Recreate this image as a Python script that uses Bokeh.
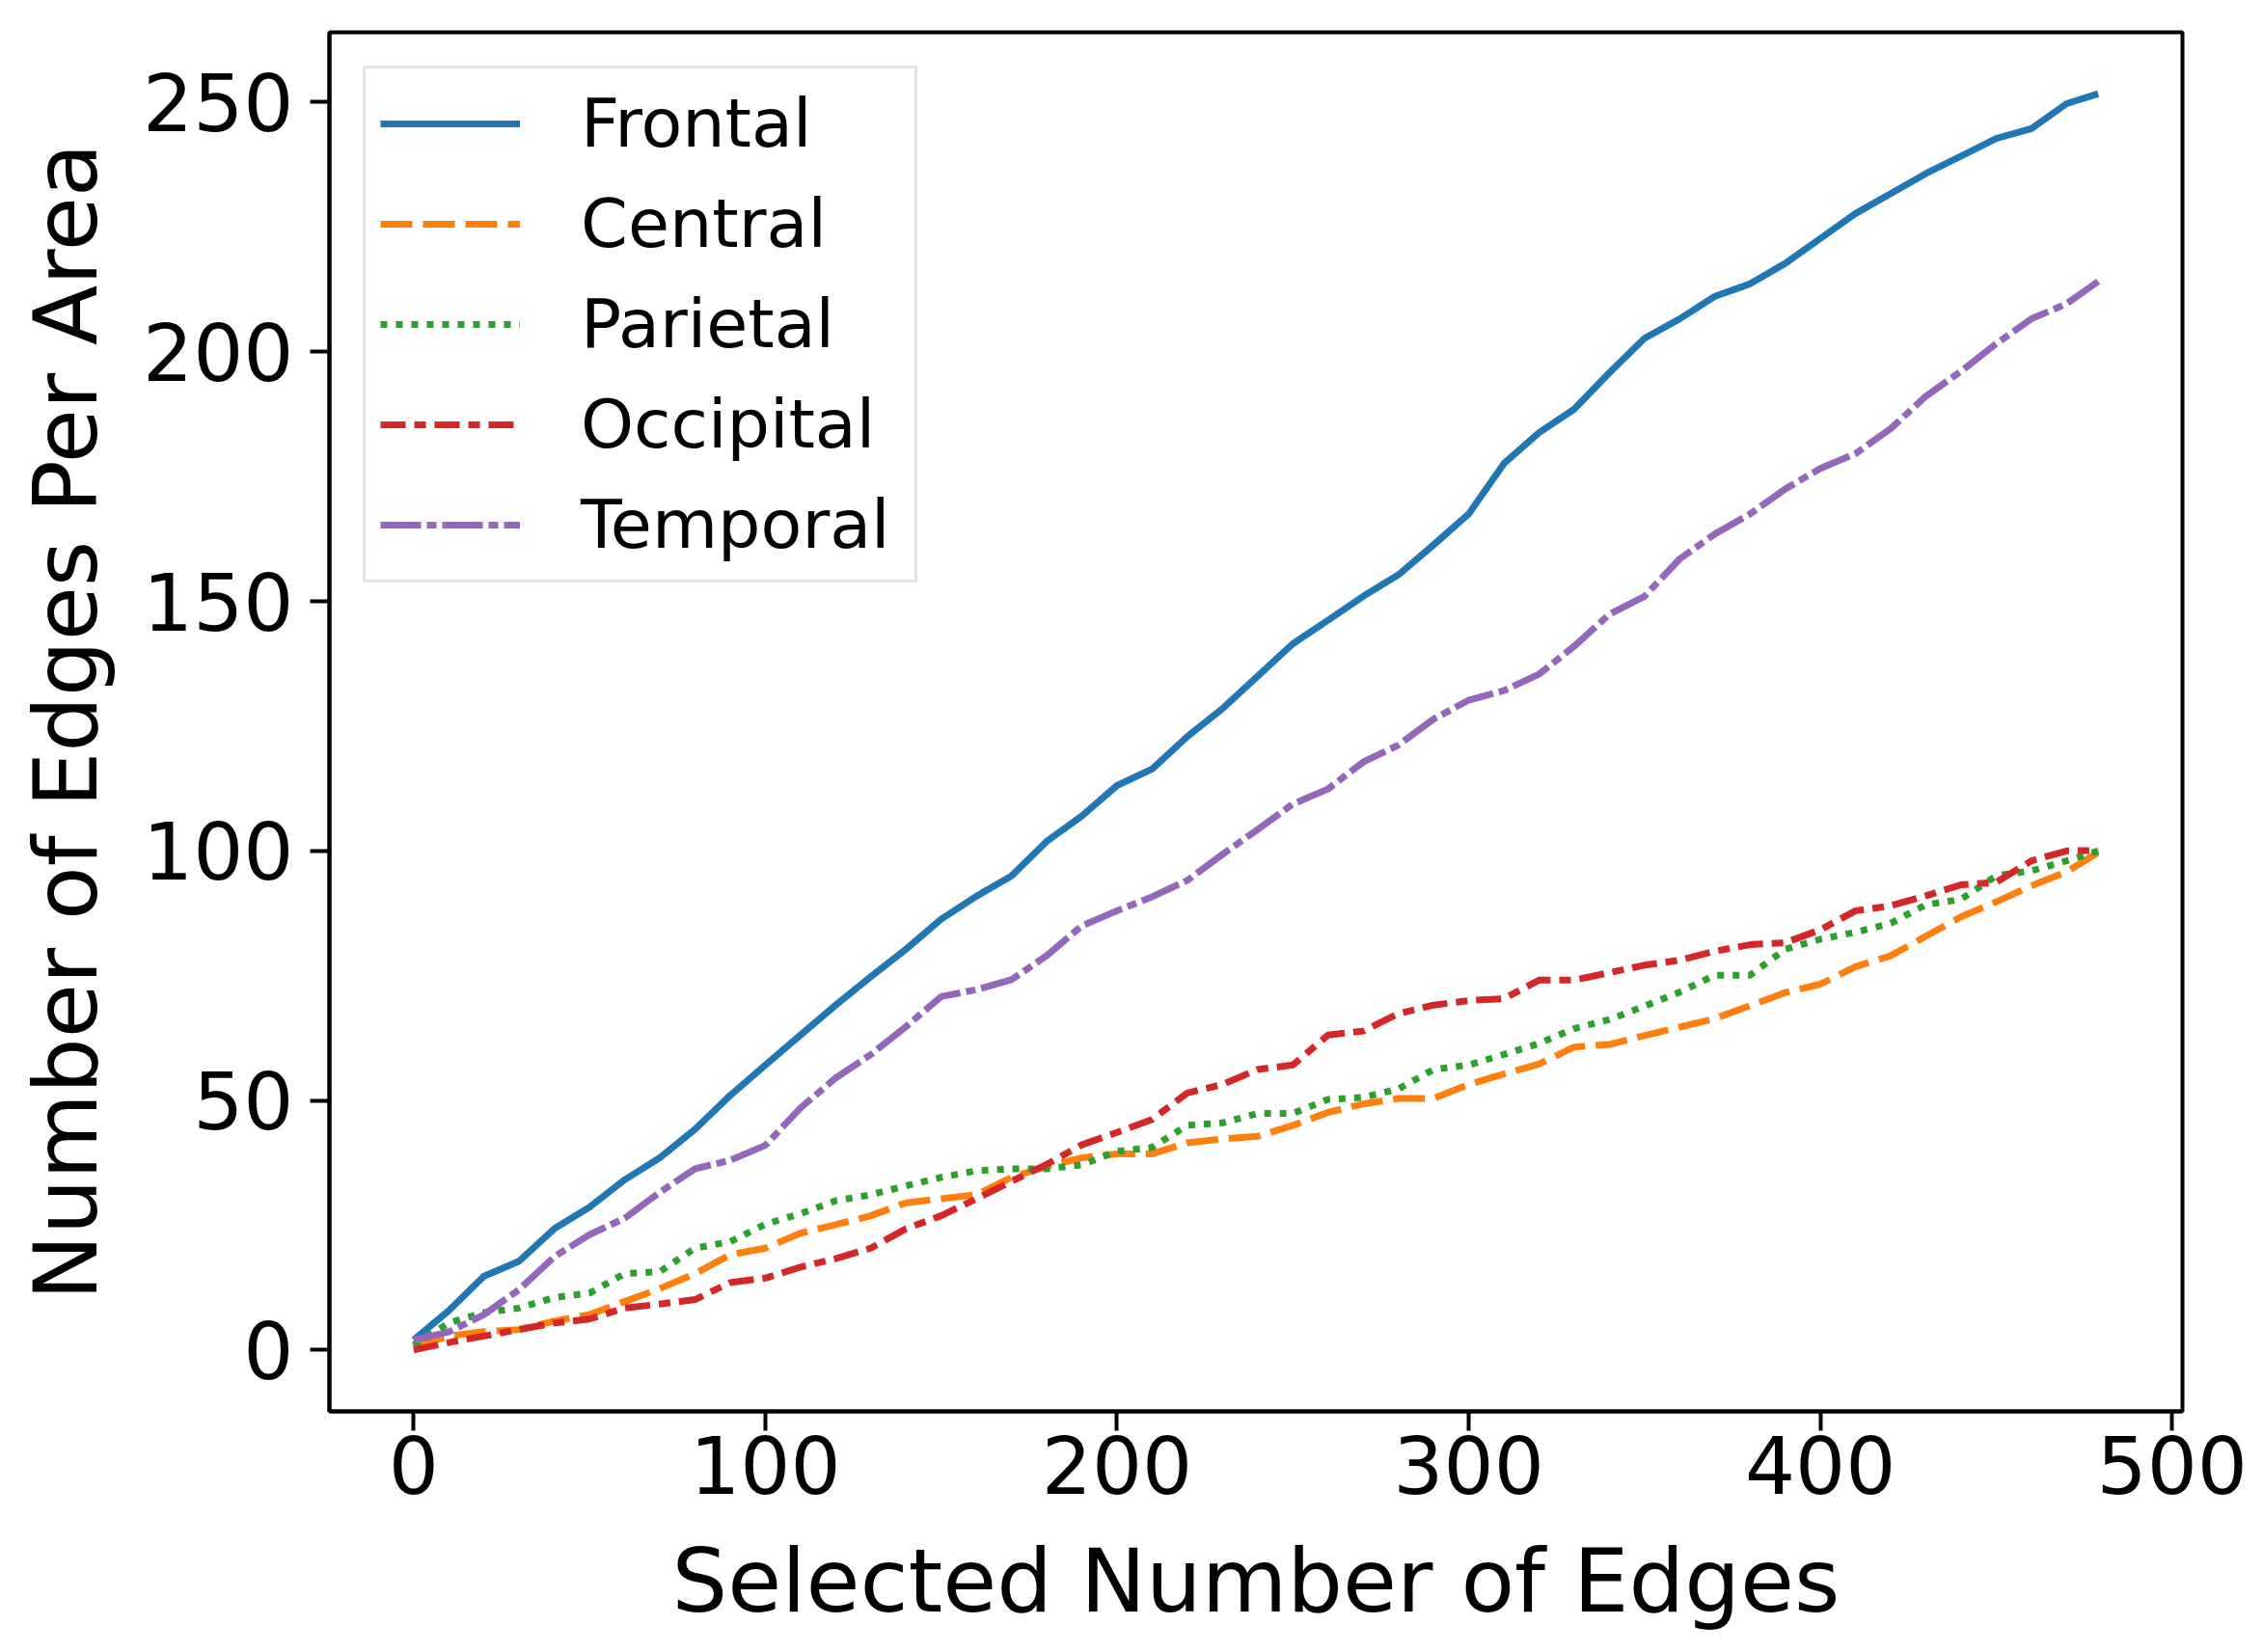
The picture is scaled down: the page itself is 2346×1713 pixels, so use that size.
from bokeh.plotting import figure
from bokeh.models import Range1d, FixedTicker
from bokeh.embed import file_html
from bokeh.resources import INLINE

# Selected number of edges (sample positions)
edges = [0, 10, 20, 30, 40, 50, 60, 70, 80, 90, 100, 110, 120, 130, 140, 150,
         160, 170, 180, 190, 200, 210, 220, 230, 240, 250, 260, 270, 280, 290,
         300, 310, 320, 330, 340, 350, 360, 370, 380, 390, 400, 410, 420, 430,
         440, 450, 460, 470, 479]

frontal = [2, 7.9, 14.8, 17.8, 24.3, 28.6, 34.1, 38.5, 44.2, 51.0, 57.1, 63.1,
           69.1, 74.8, 80.3, 86.3, 90.9, 95.0, 101.9, 107.0, 113.1, 116.4,
           122.9, 128.5, 135.0, 141.5, 146.2, 151.0, 155.3, 161.3, 167.5, 177.6,
           183.8, 188.5, 195.8, 202.7, 206.6, 211.1, 213.6, 217.7, 222.7, 227.7,
           231.7, 235.7, 239.2, 242.7, 244.7, 249.7, 251.7]

central = [0.5, 2.8, 3.7, 4.1, 5.8, 7.1, 9.7, 12.3, 15.3, 19.1, 20.4, 23.4,
           25.1, 26.9, 29.5, 30.3, 31.1, 34.6, 36.8, 38.5, 39.3, 39.3, 41.5,
           42.3, 42.8, 45.0, 47.6, 49.3, 50.4, 50.4, 53.2, 55.3, 57.3, 60.7,
           61.2, 63.0, 64.7, 66.4, 69.0, 71.6, 73.3, 76.8, 79.0, 82.9, 86.8,
           89.8, 93.0, 95.8, 99.7]

parietal = [1, 5.4, 7.5, 8.4, 10.5, 11.4, 15.3, 15.7, 20.4, 21.7, 25.2, 27.3,
            29.9, 31.1, 32.9, 34.6, 35.9, 36.3, 36.3, 37.1, 39.8, 40.6, 45.0,
            45.5, 47.4, 47.4, 50.2, 50.6, 52.3, 56.2, 57.1, 59.2, 61.4, 64.4,
            66.2, 68.9, 71.7, 75.1, 75.1, 80.3, 82.3, 83.7, 85.5, 89.2, 90.3,
            95.0, 96.0, 98.0, 100.0]

occipital = [0, 1.5, 2.8, 4.1, 5.4, 6.2, 8.4, 9.2, 10.1, 13.5, 14.4, 16.6,
             18.3, 20.4, 24.3, 26.9, 30.3, 33.8, 37.2, 41.1, 43.6, 46.2, 51.5,
             53.2, 56.2, 57.1, 63.1, 63.9, 67.4, 69.1, 70.0, 70.4, 74.1, 74.1,
             75.6, 77.1, 78.1, 79.9, 81.2, 81.6, 84.2, 88.0, 89.0, 91.0, 93.2,
             93.7, 98.0, 100.0, 100.1]

temporal = [2, 3.6, 7.1, 12.1, 18.7, 23.1, 26.4, 31.6, 36.3, 38.0, 41.0, 48.5,
            54.5, 59.2, 64.8, 70.8, 72.2, 74.2, 79.0, 85.0, 88.0, 90.8, 94.1,
            99.3, 104.3, 109.4, 112.4, 117.8, 121.2, 126.4, 130.2, 132.1, 135.4,
            141.0, 147.4, 151.0, 158.5, 163.5, 167.5, 172.5, 176.6, 179.6, 184.6,
            191.1, 196.1, 201.6, 206.6, 209.6, 214.1]

series_names = ["Frontal", "Central", "Parietal", "Occipital", "Temporal"]
series_values = [frontal, central, parietal, occipital, temporal]
series_colors = ["#1f77b4", "#ff7f0e", "#2ca02c", "#d62728", "#9467bd"]
series_dashes = ["solid", "33 11", "7 9", "26 9 12 9", "42 6 10 6"]

x_ticks = [0, 100, 200, 300, 400, 500]
y_ticks = [0, 50, 100, 150, 200, 250]

FONT = "DejaVu Sans"

p = figure(width=2330, height=1697, output_backend="svg", toolbar_location=None,
           x_range=Range1d(-23.95, 502.95), y_range=Range1d(-12.3, 264.0),
           min_border_left=341, min_border_right=68, min_border_top=33,
           min_border_bottom=234)

for name, vals, col, dash in zip(series_names, series_values, series_colors, series_dashes):
    p.line(edges, vals, line_color=col, line_width=7, line_dash=dash,
           line_cap="butt", line_join="round", legend_label=name)

p.xgrid.visible = False
p.ygrid.visible = False
p.background_fill_color = "white"
p.border_fill_color = "white"
p.outline_line_color = "black"
p.outline_line_width = 4

p.xaxis.ticker = FixedTicker(ticks=x_ticks)
p.yaxis.ticker = FixedTicker(ticks=y_ticks)
p.xaxis.axis_label = "Selected Number of Edges"
p.yaxis.axis_label = "Number of Edges Per Area"

for ax in (p.xaxis, p.yaxis):
    ax.major_tick_out = 20
    ax.major_tick_in = 0
    ax.minor_tick_out = 0
    ax.minor_tick_in = 0
    ax.major_tick_line_width = 4
    ax.major_tick_line_color = "black"
    ax.axis_line_width = 4
    ax.axis_line_color = "black"
    ax.major_label_text_font = FONT
    ax.major_label_text_font_size = "82px"
    ax.major_label_text_color = "black"
    ax.axis_label_text_font = FONT
    ax.axis_label_text_font_size = "91px"
    ax.axis_label_text_font_style = "normal"
    ax.axis_label_text_color = "black"

p.xaxis.major_label_standoff = 5
p.xaxis.axis_label_standoff = 35
p.yaxis.major_label_standoff = 17
p.yaxis.axis_label_standoff = 24

lg = p.legend[0]
lg.location = "top_left"
lg.margin = 35
lg.padding = 15
lg.spacing = 20
lg.glyph_width = 145
lg.glyph_height = 84
lg.label_height = 84
lg.label_width = 331
lg.label_standoff = 63
lg.label_text_font = FONT
lg.label_text_font_size = "70px"
lg.label_text_color = "black"
lg.border_line_color = "#cccccc"
lg.border_line_width = 3
lg.background_fill_color = "white"
lg.background_fill_alpha = 0.8

open("out.html", "w").write(file_html(p, INLINE))
